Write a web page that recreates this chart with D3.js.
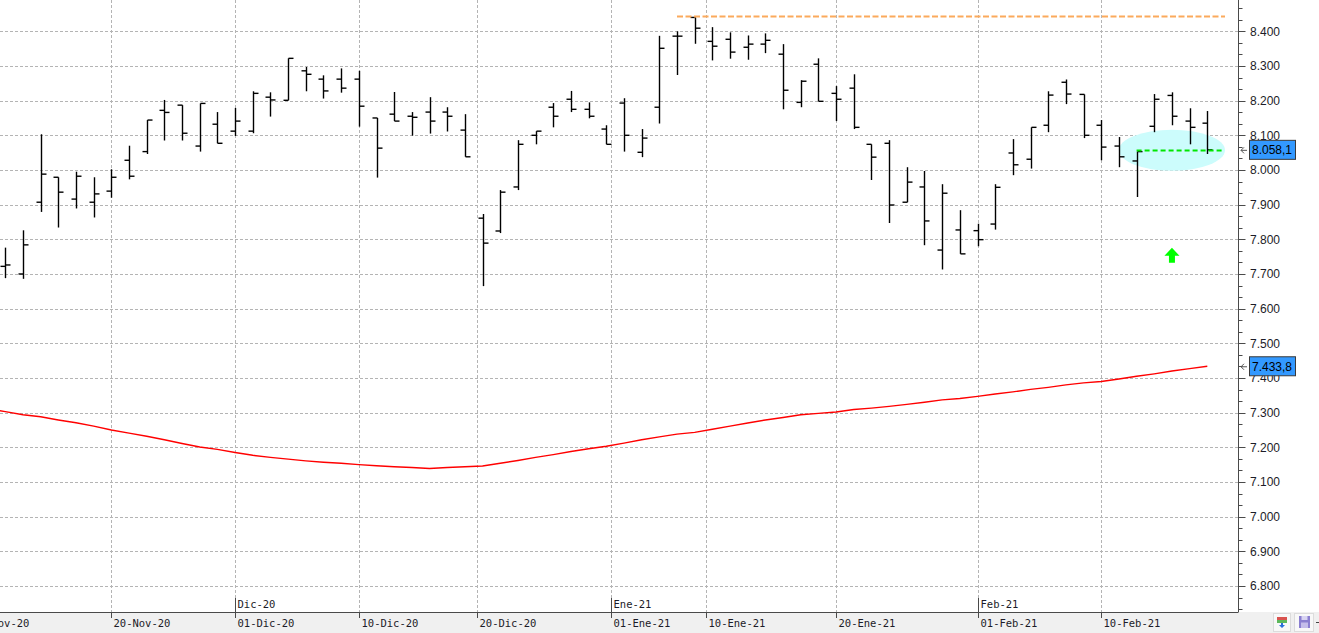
<!DOCTYPE html>
<html>
<head>
<meta charset="utf-8">
<script src="https://cdn.jsdelivr.net/npm/d3@7"></script>
<style>
  html, body { margin: 0; padding: 0; background: #fff; }
  svg { display: block; }
</style>
</head>
<body>
<svg id="chart" width="1319" height="633"></svg>
<script>
(function () {
  "use strict";

  // Trading days shown (Nov-20 .. Feb-21)
  var DATES = [
    "2020-11-12", "2020-11-13", "2020-11-16", "2020-11-17", "2020-11-18", "2020-11-19", "2020-11-20",
    "2020-11-23", "2020-11-24", "2020-11-25", "2020-11-26", "2020-11-27", "2020-11-30",
    "2020-12-01", "2020-12-02", "2020-12-03", "2020-12-04", "2020-12-07", "2020-12-08", "2020-12-09",
    "2020-12-10", "2020-12-11", "2020-12-14", "2020-12-15", "2020-12-16", "2020-12-17", "2020-12-18",
    "2020-12-21", "2020-12-22", "2020-12-23", "2020-12-24", "2020-12-28", "2020-12-29", "2020-12-30",
    "2020-12-31", "2021-01-04", "2021-01-05", "2021-01-06", "2021-01-07", "2021-01-08", "2021-01-11",
    "2021-01-12", "2021-01-13", "2021-01-14", "2021-01-15", "2021-01-18", "2021-01-19", "2021-01-20",
    "2021-01-21", "2021-01-22", "2021-01-25", "2021-01-26", "2021-01-27", "2021-01-28", "2021-01-29",
    "2021-02-01", "2021-02-02", "2021-02-03", "2021-02-04", "2021-02-05", "2021-02-08", "2021-02-09",
    "2021-02-10", "2021-02-11", "2021-02-12", "2021-02-15", "2021-02-16", "2021-02-17", "2021-02-18"
  ];
  var OPEN = [
    7722, 7700, 7907, 7979, 7916, 7907, 7939, 8028, 8053, 8172, 8187, 8069, 8132, 8112, 8112, 8210,
    8201, 8286, 8262, 8262, 8262, 8150, 8161, 8155, 8167, 8167, 8115, 7861, 7824, 7951, 8100, 8181,
    8204, 8175, 8118, 8193, 8051, 8181, 8386, 8440, 8371, 8377, 8354, 8363, 8334, 8195, 8305, 8221,
    8236, 8074, 8077, 7907, 7951, 7769, 7827, 7825, 7844, 8049, 8031, 8129, 8253, 8218, 8129, 8069,
    8026, 8126, 8215, 8141, 8135
  ];
  var HIGH = [
    7776, 7826, 8103, 7979, 7995, 7979, 8002, 8070, 8144, 8202, 8187, 8192, 8167, 8179, 8227, 8224,
    8322, 8297, 8273, 8293, 8286, 8150, 8225, 8167, 8210, 8181, 8161, 7873, 7942, 8086, 8112, 8193,
    8228, 8195, 8129, 8207, 8118, 8387, 8400, 8440, 8412, 8397, 8388, 8394, 8363, 8259, 8322, 8242,
    8276, 8074, 8086, 8008, 7997, 7959, 7884, 7845, 7959, 8089, 8123, 8227, 8261, 8218, 8144, 8095,
    8053, 8219, 8224, 8178, 8170
  ];
  var LOW = [
    7688, 7686, 7879, 7834, 7889, 7863, 7920, 7973, 8046, 8085, 8085, 8053, 8077, 8098, 8106, 8154,
    8201, 8227, 8206, 8223, 8125, 7978, 8141, 8099, 8105, 8111, 8038, 7665, 7818, 7942, 8074, 8123,
    8167, 8149, 8074, 8053, 8037, 8134, 8274, 8364, 8316, 8321, 8318, 8337, 8175, 8181, 8198, 8141,
    8118, 7971, 7847, 7907, 7783, 7713, 7758, 7780, 7828, 7985, 8004, 8109, 8190, 8092, 8028, 8008,
    7922, 8109, 8129, 8074, 8046
  ];
  var CLOSE = [
    7726, 7784, 7988, 7936, 7982, 7931, 7979, 7982, 8144, 8166, 8106, 8192, 8077, 8141, 8221, 8202,
    8322, 8276, 8228, 8236, 8184, 8063, 8141, 8152, 8141, 8155, 8038, 7789, 7936, 8074, 8112, 8155,
    8175, 8155, 8074, 8100, 8092, 8351, 8386, 8409, 8357, 8340, 8363, 8374, 8230, 8256, 8198, 8204,
    8123, 8037, 7899, 7965, 7853, 7933, 7758, 7799, 7950, 8015, 8123, 8216, 8219, 8100, 8066, 8038,
    8053, 8204, 8155, 8123, 8058.1
  ];
  // Moving average, starts one session before the first bar
  var MA_START = -1;
  var MA = [
    7311, 7303, 7294, 7288, 7279, 7271, 7261, 7250, 7241, 7232, 7222, 7211, 7201, 7194, 7185, 7177,
    7171, 7166, 7161, 7157, 7154, 7150, 7147, 7144, 7142, 7139, 7142, 7144, 7146, 7154, 7162, 7171,
    7179, 7188, 7196, 7203, 7212, 7222, 7230, 7238, 7243, 7252, 7261, 7270, 7279, 7286, 7294, 7298,
    7302, 7309, 7313, 7318, 7324, 7330, 7337, 7341, 7347, 7354, 7360, 7367, 7373, 7380, 7386, 7390,
    7397, 7405, 7412, 7420, 7427, 7433.8
  ];

  // Axis ticks
  var Y_TICKS = [6800, 6900, 7000, 7100, 7200, 7300, 7400, 7500, 7600, 7700, 7800, 7900, 8000, 8100, 8200, 8300, 8400];
  var X_TICK_DATES = ["2020-11-10", "2020-11-20", "2020-12-01", "2020-12-10", "2020-12-20",
                      "2021-01-01", "2021-01-10", "2021-01-20", "2021-02-01", "2021-02-10"];
  var X_TICK_LABELS = ["10-Nov-20", "20-Nov-20", "01-Dic-20", "10-Dic-20", "20-Dic-20",
                       "01-Ene-21", "10-Ene-21", "20-Ene-21", "01-Feb-21", "10-Feb-21"];
  var MONTH_DATES = ["2020-12-01", "2021-01-01", "2021-02-01"];
  var MONTH_LABELS = ["Dic-20", "Ene-21", "Feb-21"];

  // Annotations
  var RESIST_LEVEL = 8443, RESIST_FROM = 38;
  var SUPPORT_LEVEL = 8056, SUPPORT_FROM = 64;
  var ZONE_AT = 66, ZONE_LEVEL = 8057;
  var ARROW_AT = 66, ARROW_LEVEL = 7776;

  var C = { grid: "#b4b4b4", bar: "#000", ma: "#ff0000", orange: "#fbaa5c", green: "#00e600",
            zone: "#ccfcfc", arrow: "#00ff00", axis: "#4a4a4a", text: "#1c1c28", band: "#f0f0f0",
            tag: "#3399ff" };

  var W = 1319, H = 633, AX = 1238.5, BASE = 612;
  var svg = d3.select("#chart");

  var x = d3.scaleLinear().domain([0, DATES.length - 1]).range([5.3, 1207.3]);
  var y = d3.scaleLinear().domain([6800, 8400]).range([586, 31.3]);

  var parse = d3.timeParse("%Y-%m-%d");
  var days = DATES.map(parse);
  var DAY = 864e5;

  // fractional session index for any calendar date
  function dateIndex(s) {
    var t = parse(s);
    if (t < days[0]) {
      var n = 0, d = new Date(t);
      while (d < days[0]) { if (d.getDay() !== 0 && d.getDay() !== 6) n++; d = new Date(+d + DAY); }
      return -n;
    }
    for (var i = 0; i < days.length - 1; i++) {
      if (t >= days[i] && t <= days[i + 1]) return i + (t - days[i]) / (days[i + 1] - days[i]);
    }
    return days.length - 1;
  }

  var fmt = d3.formatLocale({ decimal: ",", thousands: ".", grouping: [3], currency: ["", ""] });
  var f0 = fmt.format(",.0f"), f1 = fmt.format(",.1f");

  var plot = svg.append("g");

  // horizontal grid
  plot.append("g").selectAll("line").data(Y_TICKS).join("line")
    .attr("x1", 0).attr("x2", AX).attr("y1", function (d) { return Math.round(y(d)) + 0.5; })
    .attr("y2", function (d) { return Math.round(y(d)) + 0.5; })
    .attr("stroke", C.grid).attr("stroke-dasharray", "3,2");

  // vertical grid
  var xt = X_TICK_DATES.map(dateIndex);
  plot.append("g").selectAll("line").data(xt).join("line")
    .attr("x1", function (d) { return Math.round(x(d)) + 0.5; })
    .attr("x2", function (d) { return Math.round(x(d)) + 0.5; })
    .attr("y1", 0).attr("y2", BASE)
    .attr("stroke", C.grid).attr("stroke-dasharray", "3,2");

  // highlight zone
  plot.append("ellipse")
    .attr("cx", x(ZONE_AT)).attr("cy", y(ZONE_LEVEL)).attr("rx", 53).attr("ry", 20.5)
    .attr("fill", C.zone);

  // moving average
  var line = d3.line().x(function (d, i) { return x(i + MA_START); }).y(function (d) { return y(d); });
  plot.append("path").datum(MA).attr("d", line)
    .attr("fill", "none").attr("stroke", C.ma).attr("stroke-width", 1.4);

  // OHLC bars
  var bars = plot.append("g").attr("stroke", C.bar).attr("stroke-width", 1.4);
  DATES.forEach(function (d, i) {
    var cx = Math.round(x(i)) + 0.5;
    bars.append("line").attr("x1", cx).attr("x2", cx).attr("y1", y(HIGH[i])).attr("y2", y(LOW[i]));
    bars.append("line").attr("x1", cx - 5).attr("x2", cx).attr("y1", y(OPEN[i])).attr("y2", y(OPEN[i]));
    bars.append("line").attr("x1", cx).attr("x2", cx + 5).attr("y1", y(CLOSE[i])).attr("y2", y(CLOSE[i]));
  });

  // resistance / support lines
  plot.append("line").attr("x1", x(RESIST_FROM)).attr("x2", 1225)
    .attr("y1", y(RESIST_LEVEL)).attr("y2", y(RESIST_LEVEL))
    .attr("stroke", C.orange).attr("stroke-width", 2).attr("stroke-dasharray", "6,2.5");
  plot.append("line").attr("x1", x(SUPPORT_FROM)).attr("x2", 1223)
    .attr("y1", y(SUPPORT_LEVEL)).attr("y2", y(SUPPORT_LEVEL))
    .attr("stroke", C.green).attr("stroke-width", 2).attr("stroke-dasharray", "5,3");

  // up arrow
  var ax = x(ARROW_AT), ay = y(ARROW_LEVEL);
  plot.append("path")
    .attr("d", "M" + ax + "," + ay + "l7.5,8h-4.5v7h-6v-7h-4.5z")
    .attr("fill", C.arrow);

  // bottom band
  svg.append("rect").attr("x", 0).attr("y", BASE).attr("width", W).attr("height", H - BASE).attr("fill", C.band);
  svg.append("line").attr("x1", 0).attr("x2", AX).attr("y1", BASE + 0.5).attr("y2", BASE + 0.5)
    .attr("stroke", C.axis);

  // date labels
  var xl = svg.append("g").attr("font-family", "'DejaVu Sans Mono', monospace").attr("font-size", "10.5px")
    .attr("fill", C.text);
  xt.forEach(function (d, i) {
    var px = Math.round(x(d)) + 0.5;
    xl.append("line").attr("x1", px).attr("x2", px).attr("y1", BASE).attr("y2", BASE + 6).attr("stroke", C.axis);
    xl.append("text").attr("x", px + 2).attr("y", 626.5).text(X_TICK_LABELS[i]);
  });
  MONTH_DATES.forEach(function (d, i) {
    var px = Math.round(x(dateIndex(d))) + 0.5;
    xl.append("line").attr("x1", px).attr("x2", px).attr("y1", 598).attr("y2", BASE).attr("stroke", C.axis);
    xl.append("text").attr("x", px + 2).attr("y", 608).text(MONTH_LABELS[i]);
  });

  // right axis
  var ya = svg.append("g");
  ya.append("line").attr("x1", AX).attr("x2", AX).attr("y1", 0).attr("y2", BASE).attr("stroke", C.axis);
  var minor = d3.range(6700, 8501, 100 / 3).filter(function (v) { return y(v) > 0 && y(v) < BASE - 2; });
  ya.selectAll("line.mn").data(minor).join("line").attr("class", "mn")
    .attr("x1", AX).attr("x2", AX + 4)
    .attr("y1", function (d) { return Math.round(y(d)) + 0.5; })
    .attr("y2", function (d) { return Math.round(y(d)) + 0.5; })
    .attr("stroke", C.axis);
  ya.selectAll("line.mj").data(Y_TICKS).join("line").attr("class", "mj")
    .attr("x1", AX).attr("x2", AX + 7)
    .attr("y1", function (d) { return Math.round(y(d)) + 0.5; })
    .attr("y2", function (d) { return Math.round(y(d)) + 0.5; })
    .attr("stroke", C.axis);
  ya.selectAll("text").data(Y_TICKS).join("text")
    .attr("x", 1250).attr("y", function (d) { return y(d); }).attr("dy", "0.36em")
    .attr("font-family", "'Liberation Sans', Arial, sans-serif").attr("font-size", "12px")
    .attr("fill", C.text).text(function (d) { return f0(d); });

  // last value tags
  function tag(v, str) {
    var ty = y(v);
    var g = svg.append("g");
    g.append("path").attr("d", "M1247," + (ty + 0.5) + "h-6m3,-3l-3,3l3,3")
      .attr("fill", "none").attr("stroke", "#555");
    g.append("rect").attr("x", 1249.5).attr("y", ty - 9.5).attr("width", 46).attr("height", 19)
      .attr("fill", C.tag).attr("stroke", "#3a3a3a");
    g.append("text").attr("x", 1252).attr("y", ty).attr("dy", "0.36em")
      .attr("font-family", "'Liberation Sans', Arial, sans-serif").attr("font-size", "12px")
      .attr("fill", "#000").text(str);
  }
  tag(CLOSE[CLOSE.length - 1], f1(CLOSE[CLOSE.length - 1]));
  tag(MA[MA.length - 1], f1(MA[MA.length - 1]));

  // toolbar icons bottom-right
  var ic = svg.append("g");
  ic.append("rect").attr("x", 1273.5).attr("y", 613.5).attr("width", 17).attr("height", 18)
    .attr("fill", "#f8f8f8").attr("stroke", "#dcdcdc");
  ic.append("rect").attr("x", 1277).attr("y", 617).attr("width", 10).attr("height", 3).attr("fill", "#d9534f");
  ic.append("rect").attr("x", 1277).attr("y", 620).attr("width", 10).attr("height", 3).attr("fill", "#5cb85c");
  ic.append("path").attr("d", "M1282,628l-3,-3h2v-2h2v2h2z").attr("fill", "#2a6fdb");
  ic.append("rect").attr("x", 1294.5).attr("y", 613.5).attr("width", 19).attr("height", 18)
    .attr("fill", "#f8f8f8").attr("stroke", "#dcdcdc");
  ic.append("rect").attr("x", 1299).attr("y", 616).attr("width", 11).attr("height", 12).attr("fill", "#8a7fd0");
  ic.append("rect").attr("x", 1301.5).attr("y", 616).attr("width", 6).attr("height", 4).attr("fill", "#d8d4f2");
  ic.append("rect").attr("x", 1301).attr("y", 622.5).attr("width", 7).attr("height", 5.5).attr("fill", "#c4bdea");
  ic.append("line").attr("x1", 1316).attr("x2", 1319).attr("y1", 622.5).attr("y2", 622.5).attr("stroke", "#444");
})();
</script>
</body>
</html>
